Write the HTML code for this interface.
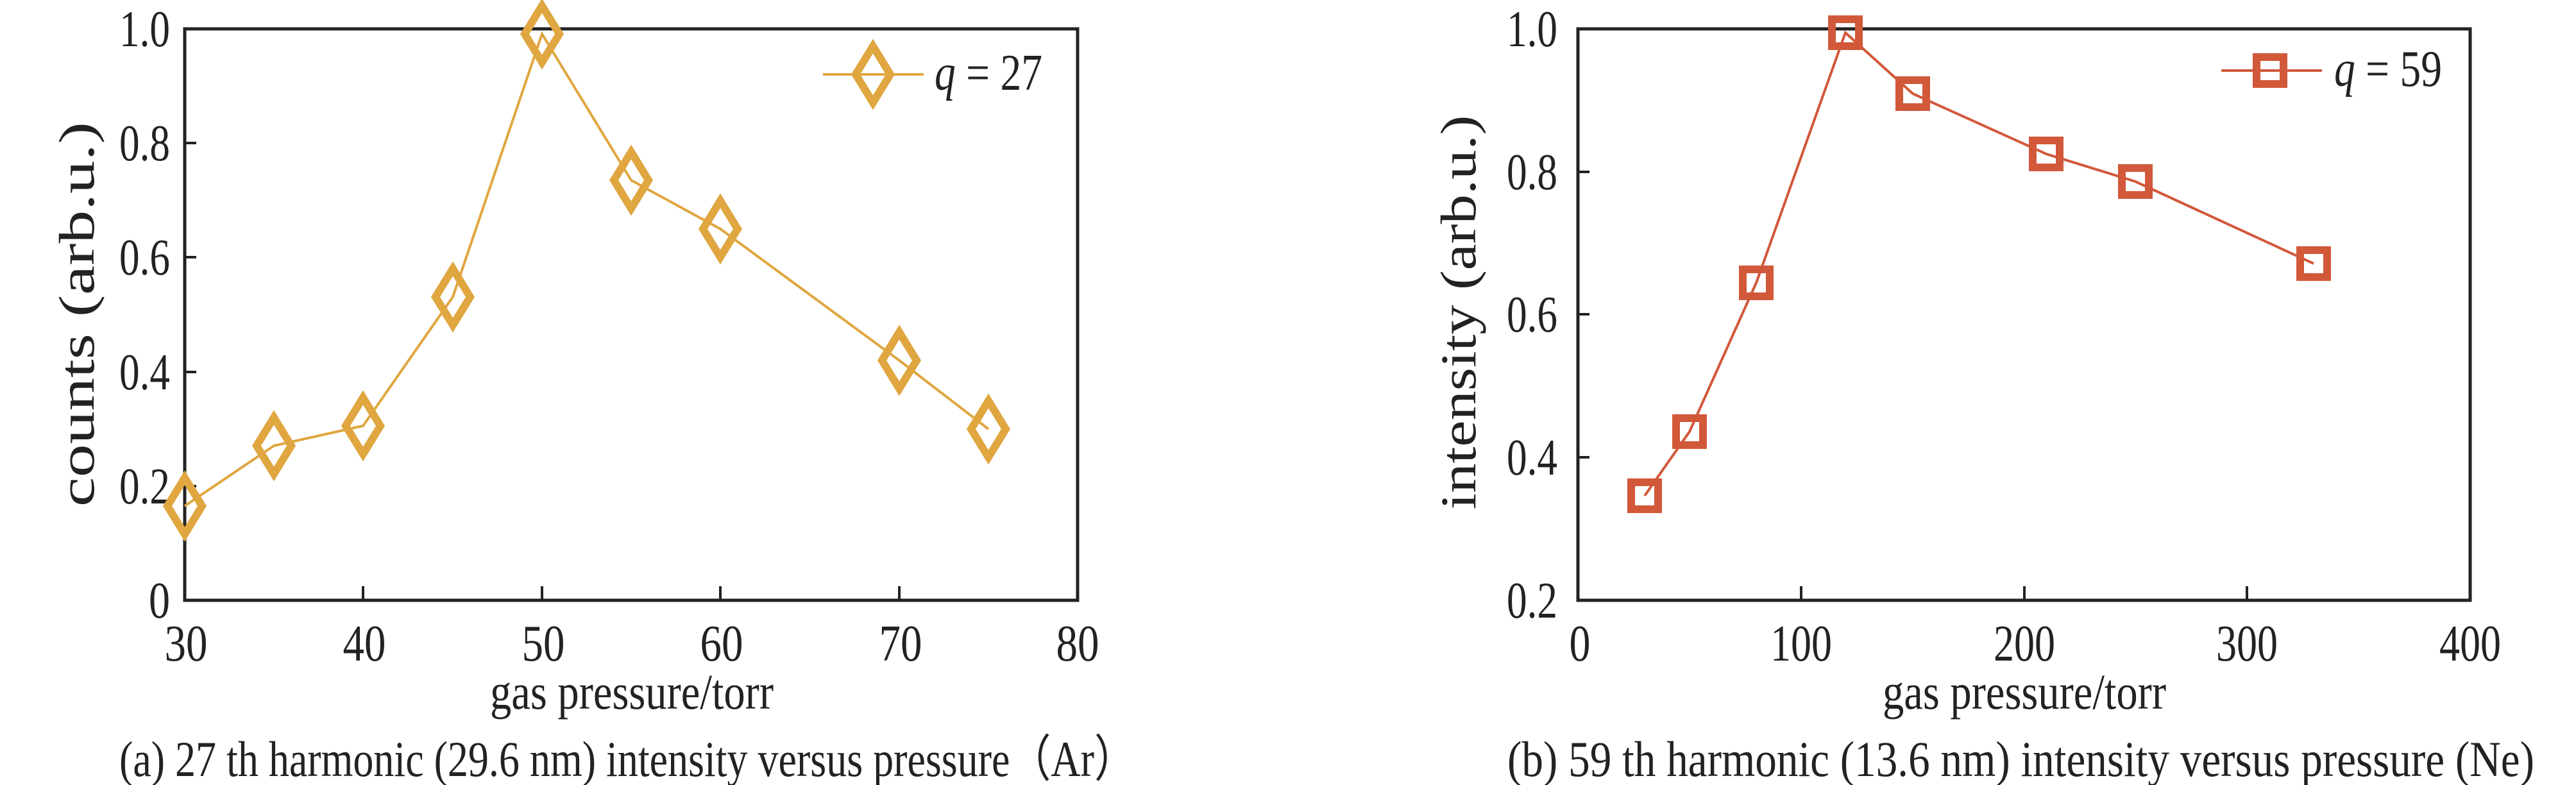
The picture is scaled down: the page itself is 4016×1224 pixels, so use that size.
<!DOCTYPE html>
<html><head><meta charset="utf-8"><style>html,body{margin:0;padding:0;background:#fff}svg{display:block}</style></head><body>
<svg width="4016" height="1224" viewBox="0 0 4016 1224" xmlns="http://www.w3.org/2000/svg" font-family="Liberation Serif, serif" fill="#222">
<!-- Left chart -->
<g>
<rect x="288" y="45" width="1392" height="891" fill="none" stroke="#222" stroke-width="5"/>
<g stroke="#222" stroke-width="4">
<line x1="566" y1="936" x2="566" y2="914"/><line x1="845" y1="936" x2="845" y2="914"/><line x1="1123" y1="936" x2="1123" y2="914"/><line x1="1402" y1="936" x2="1402" y2="914"/>
<line x1="288" y1="758" x2="306" y2="758"/><line x1="288" y1="580" x2="306" y2="580"/><line x1="288" y1="401" x2="306" y2="401"/><line x1="288" y1="223" x2="306" y2="223"/>
</g>
<g font-size="80" text-anchor="end" lengthAdjust="spacingAndGlyphs">
<text x="265" y="963" textLength="33" lengthAdjust="spacingAndGlyphs">0</text><text x="265" y="785" textLength="79" lengthAdjust="spacingAndGlyphs">0.2</text><text x="265" y="607" textLength="79" lengthAdjust="spacingAndGlyphs">0.4</text><text x="265" y="428" textLength="79" lengthAdjust="spacingAndGlyphs">0.6</text><text x="265" y="250" textLength="79" lengthAdjust="spacingAndGlyphs">0.8</text><text x="265" y="72" textLength="79" lengthAdjust="spacingAndGlyphs">1.0</text>
</g>
<g font-size="80" text-anchor="middle">
<text x="290" y="1030" textLength="67" lengthAdjust="spacingAndGlyphs">30</text><text x="568" y="1030" textLength="67" lengthAdjust="spacingAndGlyphs">40</text><text x="847" y="1030" textLength="67" lengthAdjust="spacingAndGlyphs">50</text><text x="1125" y="1030" textLength="67" lengthAdjust="spacingAndGlyphs">60</text><text x="1404" y="1030" textLength="67" lengthAdjust="spacingAndGlyphs">70</text><text x="1680" y="1030" textLength="67" lengthAdjust="spacingAndGlyphs">80</text>
</g>
<text x="985" y="1105" font-size="78" text-anchor="middle" textLength="442" lengthAdjust="spacingAndGlyphs">gas pressure/torr</text>
<text transform="translate(146,490) rotate(-90)" font-size="78" text-anchor="middle" textLength="600" lengthAdjust="spacingAndGlyphs">counts (arb.u.)</text>
<text x="186" y="1210" font-size="78" textLength="1584" lengthAdjust="spacingAndGlyphs">(a) 27 th harmonic (29.6 nm) intensity versus pressure（Ar）</text>
<polyline fill="none" stroke="#E0A640" stroke-width="4" points="288,789 427,695 566,664 706,463 845,53 984,281 1123,357 1402,562 1541,669"/>
<g fill="none" stroke="#E0A640" stroke-width="12">
<path d="M288,745 l27,44 l-27,44 l-27,-44z"/>
<path d="M427,651 l27,44 l-27,44 l-27,-44z"/>
<path d="M566,620 l27,44 l-27,44 l-27,-44z"/>
<path d="M706,419 l27,44 l-27,44 l-27,-44z"/>
<path d="M845,9 l27,44 l-27,44 l-27,-44z"/>
<path d="M984,237 l27,44 l-27,44 l-27,-44z"/>
<path d="M1123,313 l27,44 l-27,44 l-27,-44z"/>
<path d="M1402,518 l27,44 l-27,44 l-27,-44z"/>
<path d="M1541,625 l27,44 l-27,44 l-27,-44z"/>
<path d="M1361,72 l27,44 l-27,44 l-27,-44z"/>
</g>
<line x1="1283" y1="116" x2="1440" y2="116" stroke="#E0A640" stroke-width="4"/>
<text x="1457" y="140" font-size="80" textLength="168" lengthAdjust="spacingAndGlyphs"><tspan font-style="italic">q</tspan> = 27</text>
</g>
<!-- Right chart -->
<g>
<rect x="2460" y="45" width="1391" height="891" fill="none" stroke="#222" stroke-width="5"/>
<g stroke="#222" stroke-width="4">
<line x1="2808" y1="936" x2="2808" y2="914"/><line x1="3156" y1="936" x2="3156" y2="914"/><line x1="3503" y1="936" x2="3503" y2="914"/>
<line x1="2460" y1="713" x2="2478" y2="713"/><line x1="2460" y1="490" x2="2478" y2="490"/><line x1="2460" y1="268" x2="2478" y2="268"/>
</g>
<g font-size="80" text-anchor="end">
<text x="2428" y="963" textLength="79" lengthAdjust="spacingAndGlyphs">0.2</text><text x="2428" y="740" textLength="79" lengthAdjust="spacingAndGlyphs">0.4</text><text x="2428" y="517" textLength="79" lengthAdjust="spacingAndGlyphs">0.6</text><text x="2428" y="295" textLength="79" lengthAdjust="spacingAndGlyphs">0.8</text><text x="2428" y="72" textLength="79" lengthAdjust="spacingAndGlyphs">1.0</text>
</g>
<g font-size="80" text-anchor="middle">
<text x="2463" y="1030" textLength="33" lengthAdjust="spacingAndGlyphs">0</text><text x="2808" y="1030" textLength="96" lengthAdjust="spacingAndGlyphs">100</text><text x="3156" y="1030" textLength="96" lengthAdjust="spacingAndGlyphs">200</text><text x="3503" y="1030" textLength="96" lengthAdjust="spacingAndGlyphs">300</text><text x="3851" y="1030" textLength="96" lengthAdjust="spacingAndGlyphs">400</text>
</g>
<text x="3156" y="1105" font-size="78" text-anchor="middle" textLength="442" lengthAdjust="spacingAndGlyphs">gas pressure/torr</text>
<text transform="translate(2300,487) rotate(-90)" font-size="78" text-anchor="middle" textLength="615" lengthAdjust="spacingAndGlyphs">intensity (arb.u.)</text>
<text x="2350" y="1210" font-size="78" textLength="1601" lengthAdjust="spacingAndGlyphs">(b) 59 th harmonic (13.6 nm) intensity versus pressure (Ne)</text>
<polyline fill="none" stroke="#D2583A" stroke-width="4" points="2564,773 2634,673 2738,441 2877,51 2982,146 3190,240 3329,283 3607,411"/>
<g fill="none" stroke="#D2583A" stroke-width="12">
<rect x="2543" y="752" width="42" height="42"/>
<rect x="2613" y="652" width="42" height="42"/>
<rect x="2717" y="420" width="42" height="42"/>
<rect x="2856" y="30" width="42" height="42"/>
<rect x="2961" y="125" width="42" height="42"/>
<rect x="3169" y="219" width="42" height="42"/>
<rect x="3308" y="262" width="42" height="42"/>
<rect x="3586" y="390" width="42" height="42"/>
<rect x="3518" y="89" width="42" height="42"/>
</g>
<line x1="3463" y1="110" x2="3620" y2="110" stroke="#D2583A" stroke-width="4"/>
<text x="3639" y="134" font-size="80" textLength="168" lengthAdjust="spacingAndGlyphs"><tspan font-style="italic">q</tspan> = 59</text>
</g>
</svg>
</body></html>
